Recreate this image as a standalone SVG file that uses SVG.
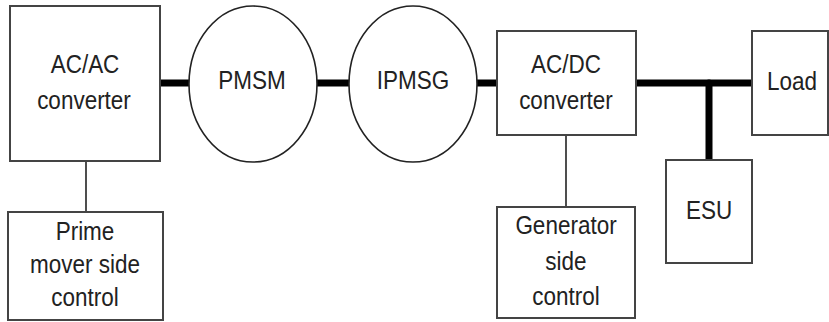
<svg xmlns="http://www.w3.org/2000/svg" width="829" height="322" viewBox="0 0 829 322">
<style>
.box{fill:#fff;stroke:#444;stroke-width:2}
.ell{fill:#fff;stroke:#222;stroke-width:1.6}
.t{font-family:"Liberation Sans",Arial,sans-serif;font-size:22.5px;fill:#222;text-anchor:middle}
.bus{stroke:#000;stroke-width:7;stroke-linecap:round;fill:none}
.sig{stroke:#222;stroke-width:1.6;fill:none}
</style>
<rect width="829" height="322" fill="#fff"/>
<g id="connectors">
<line class="bus" x1="160" y1="83" x2="189" y2="83"/>
<line class="bus" x1="317" y1="83" x2="349" y2="83"/>
<line class="bus" x1="477" y1="83" x2="497" y2="83"/>
<line class="bus" x1="636" y1="83" x2="752" y2="83"/>
<line class="bus" x1="709" y1="83" x2="709" y2="160"/>
<line class="sig" x1="86" y1="161" x2="86" y2="212"/>
<line class="sig" x1="566" y1="135" x2="566" y2="207"/>
</g>
<g id="acac"><rect class="box" x="10" y="6" width="150" height="155"/><text class="t" transform="translate(85,73) scale(1,1.18)">AC/AC</text><text class="t" transform="translate(84,109) scale(1,1.18)">converter</text></g>
<g id="pmsm"><ellipse class="ell" cx="253" cy="84" rx="64" ry="78"/><text class="t" transform="translate(252,89) scale(1,1.18)">PMSM</text></g>
<g id="ipmsg"><ellipse class="ell" cx="413" cy="84" rx="64" ry="78"/><text class="t" transform="translate(413,89) scale(1,1.18)">IPMSG</text></g>
<g id="acdc"><rect class="box" x="497" y="31" width="139" height="104"/><text class="t" transform="translate(566,73) scale(1,1.18)">AC/DC</text><text class="t" transform="translate(566,109) scale(1,1.18)">converter</text></g>
<g id="load"><rect class="box" x="752" y="31" width="76" height="104"/><text class="t" transform="translate(792,90) scale(1,1.18)">Load</text></g>
<g id="esu"><rect class="box" x="666" y="160" width="86" height="103"/><text class="t" transform="translate(709,219) scale(1,1.18)">ESU</text></g>
<g id="prime"><rect class="box" x="8" y="212" width="155" height="108"/><text class="t" transform="translate(85,240) scale(1,1.18)">Prime</text><text class="t" transform="translate(85,273) scale(1,1.18)">mover side</text><text class="t" transform="translate(85,306) scale(1,1.18)">control</text></g>
<g id="gen"><rect class="box" x="497" y="207" width="138" height="111"/><text class="t" transform="translate(566,234) scale(1,1.18)">Generator</text><text class="t" transform="translate(566,270) scale(1,1.18)">side</text><text class="t" transform="translate(566,305) scale(1,1.18)">control</text></g>
</svg>
